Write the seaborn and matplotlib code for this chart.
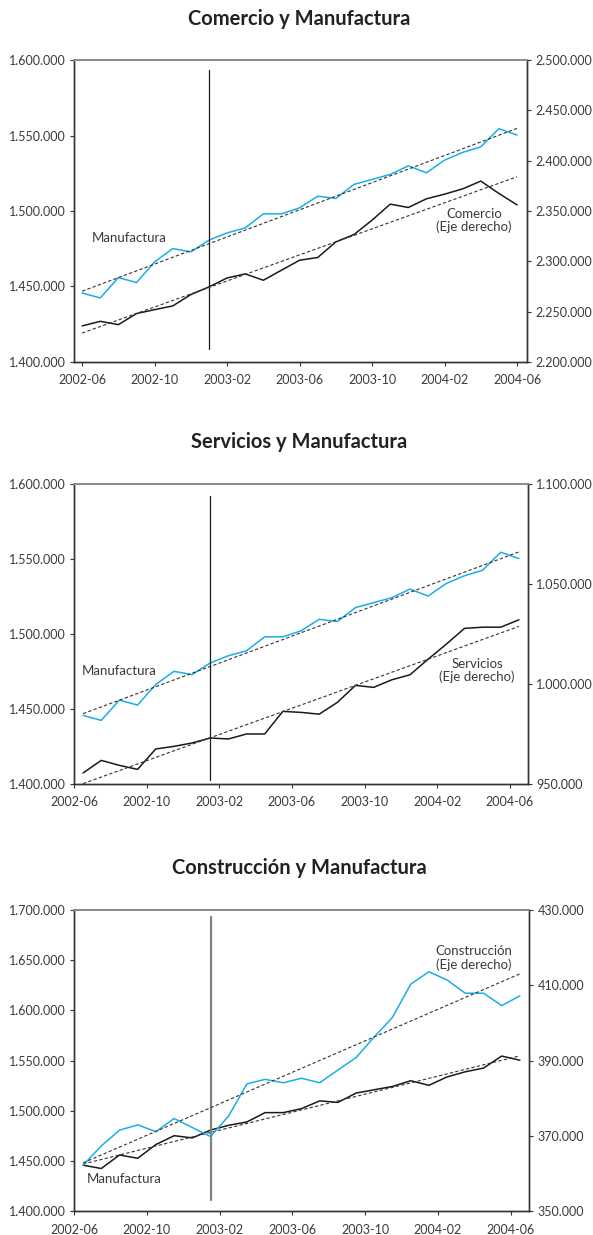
import numpy as np
import pandas as pd
import matplotlib.pyplot as plt
import matplotlib.ticker as mticker
import seaborn as sns

# Monthly data, 2002-06 .. 2004-06
meses = ['2002-06', '2002-07', '2002-08', '2002-09', '2002-10', '2002-11', '2002-12',
         '2003-01', '2003-02', '2003-03', '2003-04', '2003-05', '2003-06', '2003-07',
         '2003-08', '2003-09', '2003-10', '2003-11', '2003-12', '2004-01', '2004-02',
         '2004-03', '2004-04', '2004-05', '2004-06']

manufactura = [1445700, 1442400, 1455900, 1452600, 1466300, 1475100, 1472900,
               1480700, 1485500, 1488800, 1498100, 1498100, 1502100, 1509800,
               1508300, 1517600, 1520900, 1524200, 1529900, 1525300, 1533700,
               1538800, 1542500, 1554500, 1550300]

comercio = [2235800, 2240400, 2237100, 2248100, 2252000, 2255700, 2267000,
            2274600, 2283500, 2287500, 2281200, 2291200, 2301100, 2303800,
            2319300, 2326600, 2340900, 2356800, 2353500, 2362100, 2366700,
            2372000, 2379700, 2367400, 2356100]

servicios = [955500, 961800, 959300, 957300, 967500, 968800, 970500,
             973000, 972500, 975000, 975000, 986300, 985800, 984900,
             990800, 999300, 998300, 1002100, 1004600, 1012400, 1019900,
             1027800, 1028400, 1028400, 1032100]

construccion = [362200, 367300, 371500, 372900, 371100, 374600, 372200,
                369800, 375300, 383800, 385000, 384100, 385300, 384100,
                387500, 390800, 396300, 401500, 410300, 413600, 411400,
                407900, 407900, 404600, 407200]

AZUL = '#1aaee8'
NEGRO = '#1a1a1a'
TXT = '#3a3a3a'

sns.set_style('white')
plt.rcParams['font.family'] = ['Lato', 'DejaVu Sans']


def miles(v, pos):
    return f'{v:,.0f}'.replace(',', '.')


def trend(ax, x, y):
    coef = np.polyfit(x, y, 1)
    ax.plot(x, np.polyval(coef, x), ls=(0, (3, 2)), color='#333333', lw=0.8)


def panel(rect, izq, der, izq_lim, der_lim, izq_ticks, der_ticks,
          col_izq, col_der, offset, vline_rng, vline_col, vline_lw,
          txt_izq, txt_der, nombre_der):
    ax = fig.add_axes(rect)
    ax2 = ax.twinx()
    x = np.arange(len(meses)) + offset
    df = pd.DataFrame({'x': x, 'izq': izq, 'der': der})
    sns.lineplot(data=df, x='x', y='izq', ax=ax, color=col_izq, lw=1.1)
    sns.lineplot(data=df, x='x', y='der', ax=ax2, color=col_der, lw=1.1)
    trend(ax, x, np.array(izq, float))
    trend(ax2, x, np.array(der, float))
    ax.axvline(7 + offset, ymin=vline_rng[0], ymax=vline_rng[1], color=vline_col, lw=vline_lw)

    if offset == 0:
        ax.set_xlim(-0.45, 24.55)
    else:
        ax.set_xlim(0, 25)
    ax.set_ylim(*izq_lim)
    ax2.set_ylim(*der_lim)
    ax.set_yticks(izq_ticks)
    ax2.set_yticks(der_ticks)
    ax.yaxis.set_major_formatter(mticker.FuncFormatter(miles))
    ax2.yaxis.set_major_formatter(mticker.FuncFormatter(miles))
    ax.set_xticks(range(0, 25, 4))
    ax.set_xticklabels(meses[::4])
    ax.set_xlabel('')
    ax.set_ylabel('')
    ax2.set_ylabel('')

    for a in (ax, ax2):
        a.tick_params(axis='both', labelsize=9, labelcolor=TXT, colors='#333333',
                      length=3, width=0.8, pad=3)
        for s in a.spines.values():
            s.set_color('#333333')
            s.set_linewidth(1.0)
        a.spines['top'].set_color('#8c8c8c')
        a.spines['top'].set_linewidth(1.3)
    ax.tick_params(axis='x', bottom=True, direction='out', pad=6)
    ax.tick_params(axis='y', left=True, direction='out')
    ax2.tick_params(axis='y', right=True, direction='out', pad=3)

    ax.text(txt_izq[0], txt_izq[1], 'Manufactura', transform=ax.transAxes,
            ha='left', va='center', fontsize=9.5, color=TXT)
    ax.text(txt_der[0], txt_der[1], nombre_der + '\n(Eje derecho)', transform=ax.transAxes,
            ha='center', va='center', fontsize=9.5, color=TXT, multialignment='center',
            linespacing=1.1)
    return ax


fig = plt.figure(figsize=(5.93, 12.35), dpi=100)

panel([0.1248, 0.7069, 0.7639, 0.2445],
      manufactura, comercio, (1400000, 1600000), (2200000, 2500000),
      range(1400000, 1600001, 50000), range(2200000, 2500001, 50000),
      AZUL, NEGRO, 0, (0.043, 0.967), NEGRO, 0.9,
      (0.040, 0.41), (0.883, 0.468), 'Comercio')

panel([0.1248, 0.3652, 0.7656, 0.2429],
      manufactura, servicios, (1400000, 1600000), (950000, 1100000),
      range(1400000, 1600001, 50000), range(950000, 1100001, 50000),
      AZUL, NEGRO, 0.5, (0.013, 0.96), NEGRO, 0.9,
      (0.018, 0.377), (0.888, 0.378), 'Servicios')

panel([0.1248, 0.0194, 0.7673, 0.2437],
      manufactura, construccion, (1400000, 1700000), (350000, 430000),
      range(1400000, 1700001, 50000), range(350000, 430001, 20000),
      NEGRO, AZUL, 0.5, (0.037, 0.977), '#808080', 1.6,
      (0.029, 0.106), (0.879, 0.84), 'Construcción')

for ytit, tit in [(19, 'Comercio y Manufactura'), (442, 'Servicios y Manufactura'),
                  (868, 'Construcción y Manufactura')]:
    fig.text(0.505, 1 - ytit / 1235, tit, ha='center', va='center',
             fontsize=14.5, fontweight='bold', color='#222222')

fig.savefig('out.png', dpi=100)
